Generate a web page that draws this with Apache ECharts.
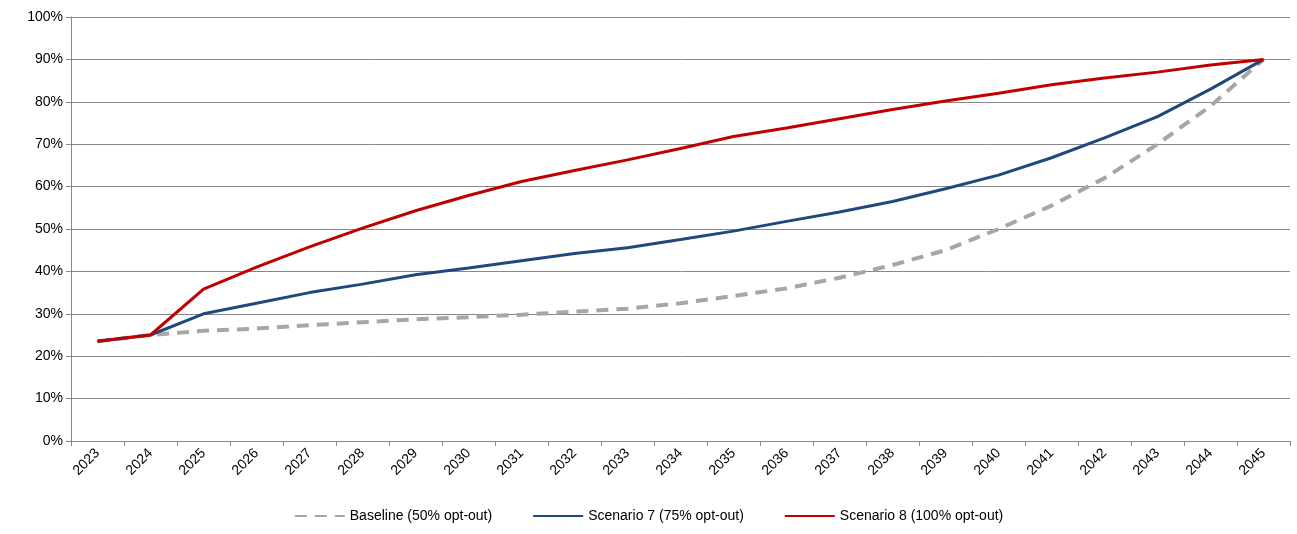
<!DOCTYPE html><html><head><meta charset="utf-8"><script src="https://cdn.jsdelivr.net/npm/echarts@6/dist/echarts.min.js"></script></head><body style="margin:0"><div id="c" style="width:1297px;height:534px"></div><script>
const years=['2023','2024','2025','2026','2027','2028','2029','2030','2031','2032','2033','2034','2035','2036','2037','2038','2039','2040','2041','2042','2043','2044','2045'];
const baseline=[23.5,25,26,26.5,27.3,28,28.7,29.2,29.8,30.5,31.2,32.5,34.2,36,38.5,41.5,45,50,55.5,62,70,79,90];
const scen7=[23.5,25,30,32.5,35,37,39.2,40.8,42.5,44.2,45.6,47.5,49.5,51.8,54,56.5,59.5,62.7,66.8,71.5,76.5,83,90];
const scen8=[23.5,25,35.8,41,45.8,50.2,54.3,57.9,61.2,63.8,66.3,69,71.8,73.8,76,78.2,80.2,82,84,85.6,87,88.7,90];
const f={fontFamily:'Liberation Sans',fontSize:14,color:'#000'};
const ch=echarts.init(document.getElementById('c'));
ch.setOption({animation:false,
grid:{left:71,right:7,top:17,bottom:93},
legend:{bottom:6,left:'center',itemWidth:50,itemGap:40,textStyle:f,itemStyle:{opacity:0},data:['Baseline (50% opt-out)','Scenario 7 (75% opt-out)','Scenario 8 (100% opt-out)']},
xAxis:{type:'category',data:years,boundaryGap:true,axisTick:{show:true,lineStyle:{color:'#888'}},axisLine:{lineStyle:{color:'#888'}},axisLabel:Object.assign({rotate:45,interval:0,margin:10},f)},
yAxis:{type:'value',min:0,max:100,interval:10,axisLabel:Object.assign({formatter:'{value}%'},f),splitLine:{lineStyle:{color:'#888'}},axisLine:{show:true,lineStyle:{color:'#888'}},axisTick:{show:true,lineStyle:{color:'#888'}}},
series:[
{name:'Baseline (50% opt-out)',type:'line',data:baseline,symbol:'none',lineStyle:{color:'#a6a6a6',width:4,type:[12,8]},itemStyle:{color:'#a6a6a6'}},
{name:'Scenario 7 (75% opt-out)',type:'line',data:scen7,symbol:'none',lineStyle:{color:'#1f497d',width:3},itemStyle:{color:'#1f497d'}},
{name:'Scenario 8 (100% opt-out)',type:'line',data:scen8,symbol:'none',lineStyle:{color:'#c00000',width:3},itemStyle:{color:'#c00000'}}
]});
</script></body></html>
